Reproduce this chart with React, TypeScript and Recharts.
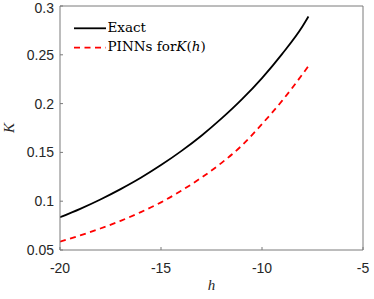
import React from 'react';
import { LineChart, Line, XAxis, YAxis, Legend, Label } from 'recharts';

const hValues = [-20, -19, -18, -17, -16, -15, -14, -13, -12, -11, -10, -9, -8, -7.7];
const exactValues = [0.0835, 0.0922, 0.1018, 0.1124, 0.1240, 0.1370, 0.1513, 0.1671, 0.1848, 0.2043, 0.2262, 0.2510, 0.2790, 0.2893];
const pinnValues = [0.0585, 0.0649, 0.072, 0.0799, 0.0888, 0.0988, 0.1107, 0.1241, 0.1393, 0.157, 0.1791, 0.203, 0.23, 0.2385];
const xTicks = [-20, -15, -10, -5];
const yTicks = [0.05, 0.1, 0.15, 0.2, 0.25, 0.3];

const data = hValues.map((h, i) => ({ h, exact: exactValues[i], pinn: pinnValues[i] }));

const axisColor = '#7a7a7a';
const tickFont = { fontFamily: '"Liberation Sans", Arial, sans-serif', fontSize: 14, fill: '#262626' };
const serif = '"Liberation Serif", "Times New Roman", serif';
const legendSerif = '"DejaVu Serif", "Liberation Serif", serif';

const renderLegend = () => (
  <svg width={170} height={45} style={{ display: 'block' }}>
    <line x1={4} y1={13.3} x2={36} y2={13.3} stroke="#000" strokeWidth={1.8} />
    <text x={37.5} y={16.8} fontFamily={legendSerif} fontSize={13.5} fill="#000">Exact</text>
    <line x1={4} y1={32.7} x2={36} y2={32.7} stroke="#ff0000" strokeWidth={1.8} strokeDasharray="6 4.5" />
    <text x={37.5} y={35.8} fontFamily={legendSerif} fontSize={13.5} fill="#000">
      PINNs for<tspan fontStyle="italic">K</tspan>(<tspan fontStyle="italic">h</tspan>)
    </text>
  </svg>
);

export default function App() {
  return (
    <div style={{ position: 'fixed', left: 0, top: 0, width: 374, height: 299, background: '#fff' }}>
      <LineChart width={374} height={299} data={data} margin={{ top: 0, right: 0, left: 0, bottom: 0 }}>
        <XAxis
          xAxisId="bottom"
          dataKey="h"
          type="number"
          domain={[-20, -5]}
          ticks={xTicks}
          allowDataOverflow
          orientation="bottom"
          height={49}
          tickSize={-3}
          tickMargin={16}
          tick={tickFont}
          stroke={axisColor}
          tickLine={{ stroke: axisColor }}
          axisLine={{ stroke: axisColor }}
        >
          <Label
            value="h"
            position="insideBottom"
            offset={9}
            style={{ fontFamily: serif, fontStyle: 'italic', fontSize: 15, fill: '#262626' }}
          />
        </XAxis>
        <XAxis
          xAxisId="top"
          dataKey="h"
          type="number"
          domain={[-20, -5]}
          ticks={xTicks}
          allowDataOverflow
          orientation="top"
          height={6}
          tickSize={-3}
          tick={false}
          stroke={axisColor}
          tickLine={{ stroke: axisColor }}
          axisLine={{ stroke: axisColor }}
        />
        <YAxis
          yAxisId="left"
          type="number"
          domain={[0.05, 0.3]}
          ticks={yTicks}
          allowDataOverflow
          orientation="left"
          width={60}
          tickSize={-3}
          tickMargin={9}
          tick={tickFont}
          tickFormatter={(v: number) => String(v)}
          stroke={axisColor}
          tickLine={{ stroke: axisColor }}
          axisLine={{ stroke: axisColor }}
        >
          <Label
            content={() => (
              <text
                x={14}
                y={128}
                transform="rotate(-90 14 128)"
                textAnchor="middle"
                fontFamily={serif}
                fontStyle="italic"
                fontSize={15}
                fill="#262626"
              >
                K
              </text>
            )}
          />
        </YAxis>
        <YAxis
          yAxisId="right"
          type="number"
          domain={[0.05, 0.3]}
          ticks={yTicks}
          allowDataOverflow
          orientation="right"
          width={11}
          tickSize={-3}
          tick={false}
          stroke={axisColor}
          tickLine={{ stroke: axisColor }}
          axisLine={{ stroke: axisColor }}
        />
        <Line
          xAxisId="bottom"
          yAxisId="left"
          type="monotone"
          dataKey="exact"
          stroke="#000"
          strokeWidth={1.8}
          dot={false}
          isAnimationActive={false}
        />
        <Line
          xAxisId="bottom"
          yAxisId="left"
          type="monotone"
          dataKey="pinn"
          stroke="#ff0000"
          strokeWidth={1.8}
          strokeDasharray="6 4.5"
          dot={false}
          isAnimationActive={false}
        />
        <Legend
          verticalAlign="middle"
          layout="horizontal"
          content={renderLegend}
          wrapperStyle={{ left: 70, top: 15, width: 170, height: 45 }}
        />
      </LineChart>
    </div>
  );
}
